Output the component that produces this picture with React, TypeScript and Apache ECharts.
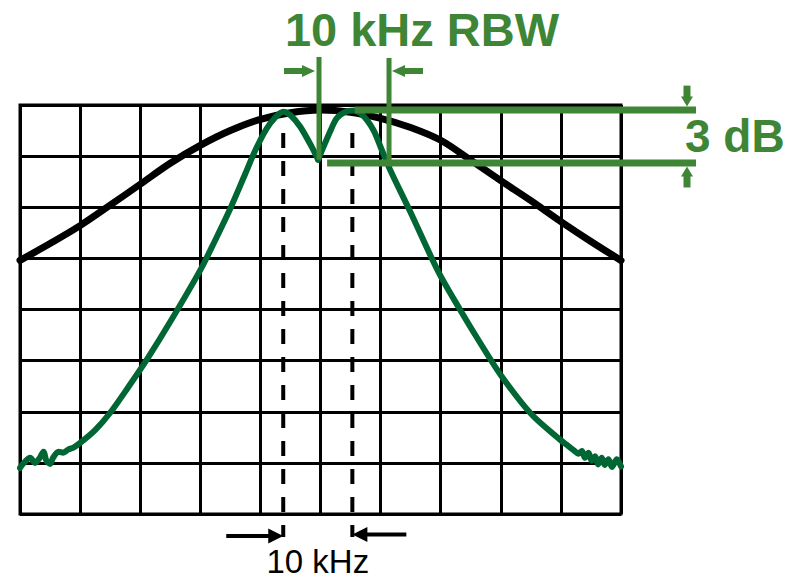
import React, { useEffect, useRef } from "react";
import * as echarts from "echarts";

// Horizontal position in screen divisions from centre (-5..5), vertical in divisions from bottom (0..8)
const BLACK_X = [-5, -4.5, -4, -3.5, -3, -2.5, -2, -1.5, -1, -0.5, 0, 0.5, 1, 1.5, 2, 2.5, 3, 3.5, 4, 4.5, 5];
const BLACK_Y = [4.96, 5.29, 5.64, 6.04, 6.45, 6.86, 7.21, 7.5, 7.72, 7.85, 7.9, 7.86, 7.74, 7.56, 7.31, 6.92, 6.52, 6.13, 5.72, 5.33, 4.96];

const GREEN_X = [
  -5, -4.95, -4.83, -4.75, -4.67, -4.61, -4.56, -4.5, -4.45, -4.36, -4.28, -4.2, -4.11, -4.01,
  -3.75, -3.5, -3.2, -2.89, -2.5, -2.0, -1.75, -1.51, -1.25, -1.09, -0.9, -0.75, -0.62,
  -0.5, -0.34, -0.15, -0.04, 0.16, 0.27, 0.4, 0.55, 0.7, 0.88, 1.02, 1.16, 1.49, 1.96, 2.32,
  2.65, 3.01, 3.51, 3.99, 4.1, 4.21, 4.29, 4.35, 4.4, 4.46, 4.51, 4.57, 4.62, 4.68, 4.73, 4.79,
  4.85, 4.93, 5.0,
];
const GREEN_Y = [
  0.9, 0.98, 1.1, 1.0, 1.1, 1.22, 1.04, 0.98, 1.1, 1.22, 1.2, 1.26, 1.3, 1.38,
  1.64, 1.98, 2.48, 3.02, 3.76, 4.77, 5.36, 5.95, 6.66, 7.1, 7.53, 7.76, 7.87,
  7.8, 7.58, 7.19, 6.93, 7.48, 7.74, 7.86, 7.89, 7.8, 7.51, 7.12, 6.73, 5.92, 4.74, 4.0,
  3.36, 2.7, 1.95, 1.45, 1.35, 1.25, 1.18, 1.23, 1.1, 1.2, 1.04, 1.13, 0.97, 1.1, 0.96, 1.07,
  0.92, 1.07, 0.93,
];

const PEAK_X = [-0.62, 0.53]; // dashed markers, 10 kHz apart
const RBW_EDGES = [-0.025, 1.14]; // 10 kHz RBW markers
const DB_LEVELS = [7.9, 6.866]; // 3 dB markers

const TITLE = "10 kHz RBW";
const DB_LABEL = "3 dB";
const SPAN_LABEL = "10 kHz";

const ANN_GREEN = "#3e8535";
const CURVE_GREEN = "#006633";

export default function App() {
  const ref = useRef<HTMLDivElement>(null);

  useEffect(() => {
    if (!ref.current) return;
    const chart = echarts.init(ref.current, null, { renderer: "svg" });

    const black = BLACK_X.map((x, i) => [x, BLACK_Y[i]]);
    const green = GREEN_X.map((x, i) => [x, GREEN_Y[i]]);
    const dipIdx = GREEN_X.indexOf(-0.04);
    const greenLeft = green.slice(0, dipIdx + 1);
    const greenRight = green.slice(dipIdx);

    const dashed = PEAK_X.map((x) => ({
      type: "line",
      data: [
        [x, 7.45],
        [x, -0.45],
      ],
      symbol: "none",
      clip: false,
      silent: true,
      z: 3,
      lineStyle: { color: "#000", width: 4, type: [15, 13] },
    }));

    const option: any = {
      animation: false,
      grid: {
        left: 20,
        top: 105,
        width: 601,
        height: 409,
        show: true,
        borderColor: "#000",
        borderWidth: 3,
        backgroundColor: "transparent",
      },
      xAxis: {
        type: "value",
        min: -5,
        max: 5,
        interval: 1,
        axisLine: { show: false },
        axisTick: { show: false },
        axisLabel: { show: false },
        splitLine: { show: true, lineStyle: { color: "#000", width: 3 } },
      },
      yAxis: {
        type: "value",
        min: 0,
        max: 8,
        interval: 1,
        axisLine: { show: false },
        axisTick: { show: false },
        axisLabel: { show: false },
        splitLine: { show: true, lineStyle: { color: "#000", width: 3 } },
      },
      series: [
        ...dashed,
        {
          type: "line",
          data: black,
          symbol: "none",
          smooth: 0.35,
          z: 4,
          lineStyle: { color: "#000", width: 7, cap: "round", join: "round" },
        },
        {
          type: "line",
          data: greenLeft,
          symbol: "none",
          smooth: 0.3,
          z: 5,
          lineStyle: { color: CURVE_GREEN, width: 6, cap: "round", join: "round" },
        },
        {
          type: "line",
          data: greenRight,
          symbol: "none",
          smooth: 0.3,
          z: 5,
          lineStyle: { color: CURVE_GREEN, width: 6, cap: "round", join: "round" },
        },
      ],
    };

    chart.setOption(option);

    const px = (u: number, v: number) => chart.convertToPixel({ gridIndex: 0 }, [u, v]) as number[];

    const [rbwL, rbwTop] = px(RBW_EDGES[0], 8.94);
    const [rbwR] = px(RBW_EDGES[1], 0);
    const [, dipY] = px(0, 6.93);
    const [, rbwRBot] = px(0, 6.9);
    const [pkL] = px(PEAK_X[0], 0);
    const [pkR] = px(PEAK_X[1], 0);
    const [, dbTop] = px(0, DB_LEVELS[0]);
    const [, dbBot] = px(0, DB_LEVELS[1]);
    const [dbTopStart] = px(0.57, 0);
    const [dbBotStart] = px(0.11, 0);
    const dbEnd = 696;
    const arrowX = 687;
    const topArrowY = 71;
    const botArrowY = 535;

    const hArrow = (tipX: number, y: number, dir: number, len: number, headLen: number, headH: number, shaftW: number, color: string) => [
      {
        type: "rect",
        shape: {
          x: dir > 0 ? tipX - len : tipX + headLen - 1,
          y: y - shaftW / 2,
          width: len - headLen + 1,
          height: shaftW,
        },
        style: { fill: color },
        z: 10,
      },
      {
        type: "polygon",
        shape: {
          points: [
            [tipX, y],
            [tipX - dir * headLen, y - headH / 2],
            [tipX - dir * headLen, y + headH / 2],
          ],
        },
        style: { fill: color },
        z: 10,
      },
    ];

    const vArrow = (x: number, tipY: number, dir: number, len: number, headLen: number, headW: number, shaftW: number, color: string) => [
      {
        type: "rect",
        shape: {
          x: x - shaftW / 2,
          y: dir > 0 ? tipY - len : tipY + headLen - 1,
          width: shaftW,
          height: len - headLen + 1,
        },
        style: { fill: color },
        z: 10,
      },
      {
        type: "polygon",
        shape: {
          points: [
            [x, tipY],
            [x - headW / 2, tipY - dir * headLen],
            [x + headW / 2, tipY - dir * headLen],
          ],
        },
        style: { fill: color },
        z: 10,
      },
    ];

    const gLine = (x1: number, y1: number, x2: number, y2: number, w: number) => ({
      type: "line",
      shape: { x1, y1, x2, y2 },
      style: { stroke: ANN_GREEN, lineWidth: w, lineCap: "butt" },
      z: 9,
    });

    const graphic: any[] = [
      {
        type: "text",
        x: 422,
        y: 29,
        style: {
          text: TITLE,
          fill: ANN_GREEN,
          font: 'bold 47px "Liberation Sans", Arial, sans-serif',
          align: "center",
          verticalAlign: "middle",
        },
        z: 10,
      },
      gLine(rbwL, rbwTop, rbwL, dipY, 5),
      gLine(rbwR, rbwTop + 1, rbwR, rbwRBot, 5),
      gLine(dbTopStart, dbTop, dbEnd, dbTop, 7),
      gLine(dbBotStart, dbBot, dbEnd, dbBot, 7),
      ...hArrow(rbwL - 4, topArrowY, 1, 31, 13, 12, 6, ANN_GREEN),
      ...hArrow(rbwR + 3, topArrowY, -1, 31, 13, 12, 6, ANN_GREEN),
      ...vArrow(arrowX, dbTop - 3.5, 1, 21, 10, 12, 7, ANN_GREEN),
      ...vArrow(arrowX, dbBot + 3.5, -1, 21, 10, 12, 7, ANN_GREEN),
      {
        type: "text",
        x: 685,
        y: 136,
        style: {
          text: DB_LABEL,
          fill: ANN_GREEN,
          font: 'bold 46px "Liberation Sans", Arial, sans-serif',
          align: "left",
          verticalAlign: "middle",
        },
        z: 10,
      },
      ...hArrow(pkL, botArrowY + 1, 1, 57, 15, 15, 4, "#000"),
      ...hArrow(pkR, botArrowY - 0.5, -1, 54, 15, 15, 4, "#000"),
      {
        type: "text",
        x: (pkL + pkR) / 2,
        y: 561,
        style: {
          text: SPAN_LABEL,
          fill: "#000",
          font: '33px "Liberation Sans", Arial, sans-serif',
          align: "center",
          verticalAlign: "middle",
        },
        z: 10,
      },
    ];

    chart.setOption({ graphic });

    return () => chart.dispose();
  }, []);

  return (
    <div
      ref={ref}
      style={{ position: "fixed", left: 0, top: 0, width: 800, height: 580, background: "#fff" }}
    />
  );
}
